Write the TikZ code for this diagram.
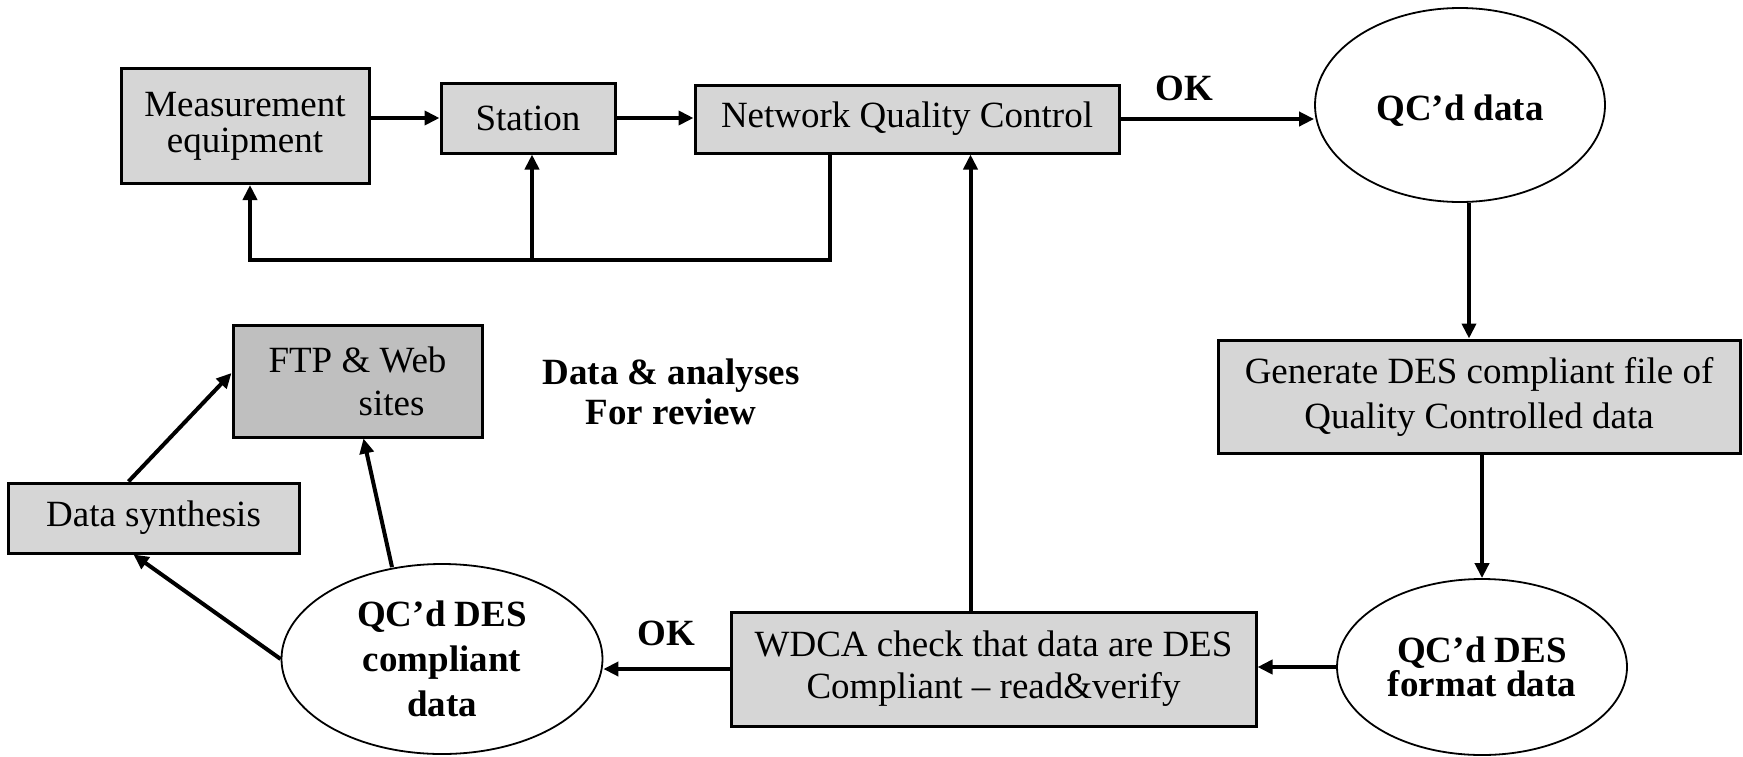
\documentclass[tikz,border=0pt]{standalone}
\usepackage{fontspec}
\setmainfont{Liberation Serif}
\usetikzlibrary{shapes.geometric,arrows.meta}
\definecolor{boxgray}{gray}{0.84}
\definecolor{sitegray}{gray}{0.75}

\begin{document}
\begin{tikzpicture}[
  x=1pt, y=-1pt, % pixel grid, y grows downwards
  box/.style={draw, line width=3pt, fill=boxgray, inner sep=0pt, align=center,
    font=\fontsize{37}{43}\selectfont},
  blob/.style={draw, ellipse, line width=1.8pt, inner sep=0pt, align=center,
    font=\fontsize{37}{45}\selectfont\bfseries},
  flow/.style={line width=4pt, -{Triangle[length=15pt,width=14pt]}},
  link/.style={line width=4pt},
  tag/.style={align=center, font=\fontsize{37}{40}\selectfont\bfseries}
  ]
\useasboundingbox (0,0) rectangle (1743,756);

% network side
\node[box, minimum width=248pt, minimum height=115pt,
  font=\fontsize{37}{36}\selectfont] (meas) at (245,126) {Measurement\\equipment};
\node[box, minimum width=174pt, minimum height=70pt] (station) at (528,118) {Station};
\node[box, minimum width=424pt, minimum height=68pt] (nqc) at (907,119) {Network Quality Control};
\node[blob, minimum width=290pt, minimum height=194pt, text height=36pt] (qcd) at (1460,105) {QC’d data};

% data centre side
\node[box, minimum width=522pt, minimum height=113pt,
  font=\fontsize{37}{45}\selectfont] (gen) at (1479,396.5) {Generate DES compliant file of\\Quality Controlled data};
\node[blob, minimum width=290pt, minimum height=176pt,
  font=\fontsize{37}{34}\selectfont\bfseries] (fmt) at (1482,667) {QC’d DES\\format data};
\node[box, minimum width=525pt, minimum height=114pt,
  font=\fontsize{37}{42}\selectfont] (wdca) at (993.5,669) {WDCA check that data are DES\\Compliant -- read\&verify};
\node[blob, minimum width=321pt, minimum height=190pt] (comp) at (442,659) {QC’d DES\\compliant\\data};

% publishing
\node[box, fill=sitegray, minimum width=249pt, minimum height=112pt] (ftp) at (357.5,381) {FTP \& Web\\\hspace*{68pt}sites};
\node[box, minimum width=291pt, minimum height=70pt] (synth) at (153.5,518) {Data synthesis};
\node[tag] (review) at (671,392) {Data \& analyses\\For review};

% labels on the OK arrows
\node[tag] (ok1) at (1184,88) {OK};
\node[tag] (ok2) at (666,633) {OK};

\coordinate (fbr) at (830,260);
\coordinate (fbm) at (532,260);
\coordinate (fbl) at (250,260);

\draw[flow] (meas.east |- station.west) -- (station.west);
\draw[flow] (station.east) -- (nqc.west |- station.east);
\draw[flow] (nqc.east) -- (nqc.east -| qcd.west);
\draw[flow] (fbr |- nqc.south) -- (fbr) -- (fbl) -- (fbl |- meas.south);
\draw[flow] (fbm) -- (fbm |- station.south);

\draw[flow] ([xshift=9pt]qcd.south) -- ([xshift=9pt]qcd.south |- gen.north);
\draw[flow] (fmt.north |- gen.south) -- (fmt.north);
\draw[flow] (fmt.west) -- (fmt.west -| wdca.east);
\draw[flow] (wdca.west) -- (wdca.west -| comp.east);
\draw[flow] ([xshift=-23pt]wdca.north) -- ([xshift=-23pt]wdca.north |- nqc.south);

\draw[flow] ([xshift=-25pt]synth.north) -- ([yshift=8pt]ftp.west);
\draw[flow] ([xshift=-50pt,yshift=-4pt]comp.north) -- ([xshift=6pt]ftp.south);
\draw[flow] (comp.west) -- ([xshift=-20pt]synth.south);
\end{tikzpicture}
\end{document}
